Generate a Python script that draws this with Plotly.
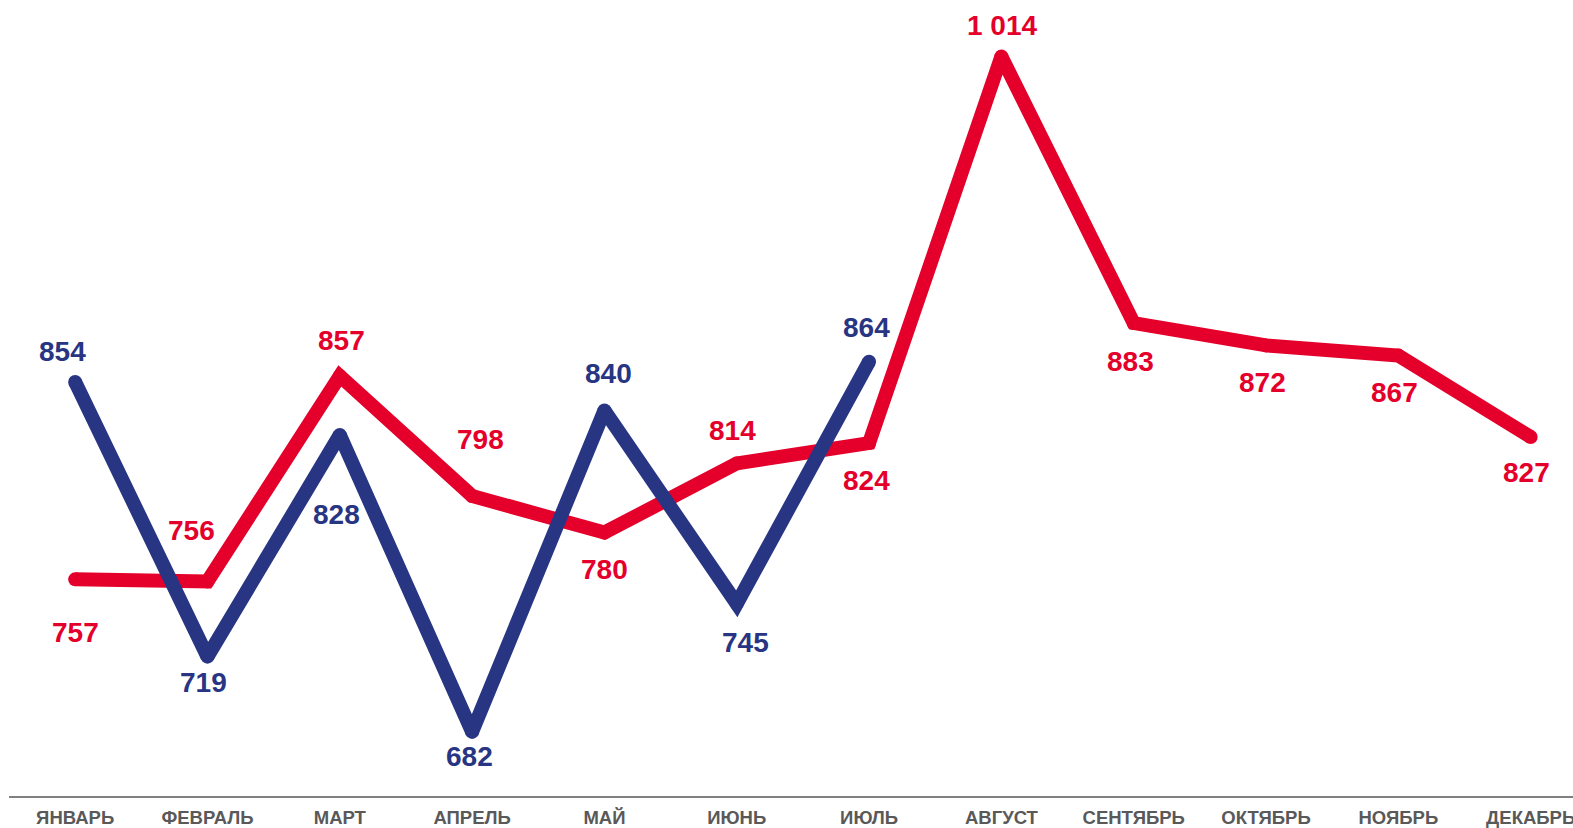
import plotly.graph_objects as go

months = ["ЯНВАРЬ", "ФЕВРАЛЬ", "МАРТ", "АПРЕЛЬ", "МАЙ", "ИЮНЬ", "ИЮЛЬ",
          "АВГУСТ", "СЕНТЯБРЬ", "ОКТЯБРЬ", "НОЯБРЬ", "ДЕКАБРЬ"]
red_values = [757, 756, 857, 798, 780, 814, 824, 1014, 883, 872, 867, 827]
blue_values = [854, 719, 828, 682, 840, 745, 864]
red_labels = ["757", "756", "857", "798", "780", "814", "824", "1 014", "883", "872", "867", "827"]
blue_labels = ["854", "719", "828", "682", "840", "745", "864"]

# label placement (pixels) — styling only
red_dy = [-53, 51, 35, 56, -37, 33, -37, 31, -38, -37, -37, -36]
red_dx = [0, -16, 2, 8, 0, -4, -3, 1, -3, -4, -4, -4]
blue_dy = [31, -26, -80, -25, 37, -39, 34]
blue_dx = [-13, -4, -3, -3, 4, 9, -3]

RED = "#E4002B"
BLUE = "#283583"
LW = 14

fig = go.Figure()
fig.add_trace(go.Scatter(
    x=months, y=red_values, mode="lines+markers",
    line=dict(color=RED, width=LW),
    marker=dict(color=RED, size=LW, line=dict(width=0)),
    hoverinfo="skip", showlegend=False))
fig.add_trace(go.Scatter(
    x=months[:len(blue_values)], y=blue_values, mode="lines+markers",
    line=dict(color=BLUE, width=LW),
    marker=dict(color=BLUE, size=LW, line=dict(width=0)),
    hoverinfo="skip", showlegend=False))

label_font = dict(family="Liberation Sans, Arial, sans-serif", size=28, weight="bold")
for m, v, t, dx, dy in zip(months, red_values, red_labels, red_dx, red_dy):
    fig.add_annotation(x=m, y=v, text=t, showarrow=False, xshift=dx, yshift=dy,
                       xanchor="center", yanchor="middle",
                       font=dict(**label_font, color=RED))
for m, v, t, dx, dy in zip(months, blue_values, blue_labels, blue_dx, blue_dy):
    fig.add_annotation(x=m, y=v, text=t, showarrow=False, xshift=dx, yshift=dy,
                       xanchor="center", yanchor="middle",
                       font=dict(**label_font, color=BLUE))

fig.update_layout(
    width=1573, height=828,
    margin=dict(l=9, r=0, t=0, b=32),
    plot_bgcolor="white", paper_bgcolor="white",
    xaxis=dict(
        type="category", categoryorder="array", categoryarray=months,
        range=[-0.5, 11.32], showgrid=False, zeroline=False,
        showline=True, linecolor="#808080", linewidth=2,
        ticks="", ticklabelstandoff=4, automargin=False,
        tickfont=dict(family="Liberation Sans, Arial, sans-serif", size=18.5,
                      weight="bold", color="#595959"),
    ),
    yaxis=dict(range=[650.5, 1041.8], visible=False, showgrid=False,
               zeroline=False, automargin=False),
)

fig.write_html("out.html", config={"displayModeBar": False},
               post_script="document.body.style.margin='0';document.body.style.overflow='hidden';")
